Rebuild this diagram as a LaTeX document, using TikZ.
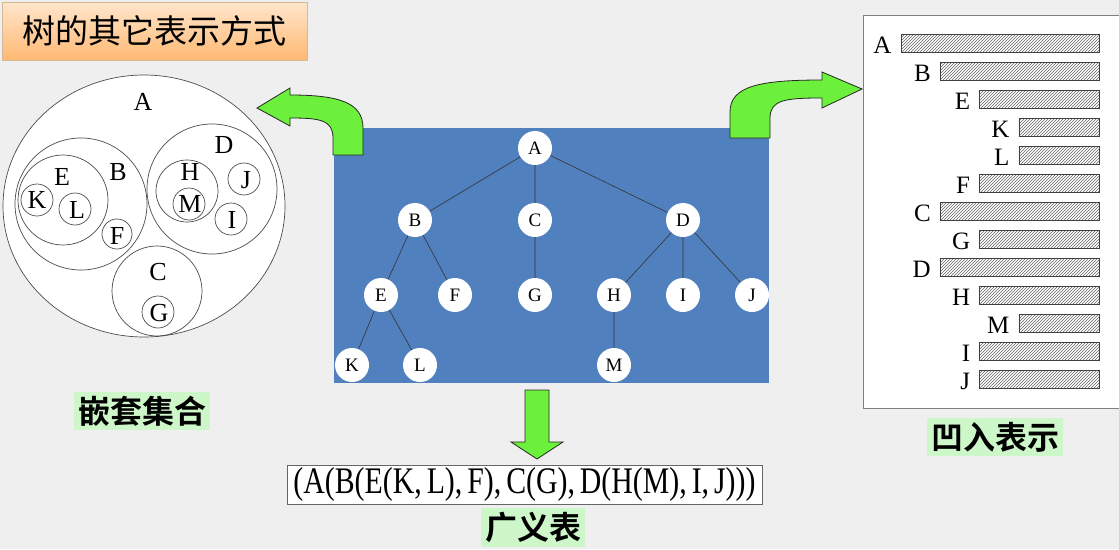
\documentclass[tikz,border=0pt]{standalone}
\usepackage{fontspec}
\setmainfont{Liberation Serif}
\newfontfamily\cjk{Noto Sans CJK SC}
\newfontfamily\cjkb{Noto Sans CJK SC Bold}
\usetikzlibrary{patterns,shapes.geometric}
\definecolor{bg}{HTML}{EFEFEF}
\definecolor{blueb}{HTML}{5180BE}
\definecolor{arrowg}{HTML}{6CF03C}
\definecolor{lblg}{HTML}{CDF7C9}
\tikzset{
  tn/.style={circle,fill=white,inner sep=0pt,minimum size=34pt,font=\fontsize{19}{19}\selectfont},
  tl/.style={draw=black!80,line width=0.6pt},
  sc/.style={draw=black!70,line width=0.7pt},
  nl/.style={font=\fontsize{26}{26}\selectfont},
  bar/.style={draw=black!75,line width=0.8pt,pattern=north east lines,pattern color=black!60},
  bl/.style={font=\fontsize{25}{25}\selectfont,anchor=east},
  garrow/.style={fill=arrowg,draw=black!85,line width=0.8pt,line join=miter},
  glbl/.style={fill=lblg,inner sep=4pt,font=\cjkb\fontsize{32}{32}\selectfont}
}
\begin{document}
\begin{tikzpicture}[x=1pt,y=-1pt]
\fill[bg] (0,0) rectangle (1119,549);
\useasboundingbox (0,0) rectangle (1119,549);
% title
\node[draw=orange!60!black!40,top color=orange!20,bottom color=orange!55,minimum width=305pt,minimum height=58pt,font=\cjk\fontsize{33}{33}\selectfont] (title) at (155,31) {树的其它表示方式};
% nested sets
\draw[sc,fill=white] (144,206) ellipse [x radius=141,y radius=131];
\draw[sc] (81,204) circle (66);
\draw[sc] (63,200) circle (45);
\draw[sc] (37,200) circle (16);
\draw[sc] (75,209) circle (16);
\draw[sc] (117,234) circle (15);
\draw[sc] (212,189) circle (65);
\draw[sc] (187,191) circle (31);
\draw[sc] (189,204) circle (16);
\draw[sc] (244,179) circle (16);
\draw[sc] (231,219) circle (16);
\draw[sc] (157,291) circle (45);
\draw[sc] (158,312) circle (16);
\node[nl] (sA) at (143,102) {A};
\node[nl] (sB) at (118,172) {B};
\node[nl] (sE) at (62,177) {E};
\node[nl] (sK) at (37,200) {K};
\node[nl] (sL) at (77,210) {L};
\node[nl] (sF) at (117,236) {F};
\node[nl] (sD) at (224,145) {D};
\node[nl] (sH) at (190,172) {H};
\node[nl] (sM) at (190,204) {M};
\node[nl] (sJ) at (246,180) {J};
\node[nl] (sI) at (232,220) {I};
\node[nl] (sC) at (158,272) {C};
\node[nl] (sG) at (159,313) {G};
\node[glbl] (lblNest) at (142,411) {嵌套集合};
% tree
\fill[blueb] (334,128) rectangle (769,383);
\node[tn] (A) at (535,148) {A};
\node[tn] (B) at (415,220) {B};
\node[tn] (C) at (535,220) {C};
\node[tn] (D) at (683,220) {D};
\node[tn] (E) at (381,295) {E};
\node[tn] (F) at (455,295) {F};
\node[tn] (G) at (535,295) {G};
\node[tn] (H) at (614,295) {H};
\node[tn] (I) at (683,295) {I};
\node[tn] (J) at (752,295) {J};
\node[tn] (K) at (352,365) {K};
\node[tn] (L) at (420,365) {L};
\node[tn] (M) at (614,365) {M};
\draw[tl] (A)--(B) (A)--(C) (A)--(D) (B)--(E) (B)--(F) (C)--(G) (D)--(H) (D)--(I) (D)--(J) (E)--(K) (E)--(L) (H)--(M);
% arrows
\draw[garrow] (363,155) -- (363,128) .. controls (363,103) and (340,95) .. (290,95) -- (290,88) -- (257,108) -- (290,126) -- (290,118) .. controls (320,118) and (333,120) .. (333,138) -- (333,155) -- cycle;
\draw[garrow] (730,138) -- (730,112) .. controls (730,86) and (760,80) .. (822,80) -- (822,72) -- (862,89) -- (822,108) -- (822,98) .. controls (785,98) and (770,100) .. (770,118) -- (770,138) -- cycle;
\draw[garrow] (525,390) -- (549,390) -- (549,442) -- (563,442) -- (537,459) -- (511,442) -- (525,442) -- cycle;
% list
\node[draw=black!60,fill=white,minimum width=475pt,minimum height=39pt,inner sep=0pt] (list) at (524.5,484.5) {\resizebox{462pt}{26pt}{(A(B(E(K,\,L),\,F),\,C(G),\,D(H(M),\,I,\,J)))}};
\node[glbl,anchor=north] (lblList) at (533,508) {广义表};
% indentation
\draw[draw=black!50,fill=white] (863,15) rectangle (1125,408);
\foreach \n/\y/\lv in {A/43/0,B/71/1,E/99/2,K/127/3,L/155/3,F/183/2,C/211/1,G/239/2,D/267/1,H/295/2,M/323/3,I/351/2,J/379/2}{
  \pgfmathsetmacro{\xl}{901+39.3*\lv}
  \draw[bar] (\xl,\y-9) rectangle (1099,\y+9);
  \node[bl] (r\n) at (\xl-6,\y+2) {\n};
}
\node[glbl] (lblIndent) at (995,437) {凹入表示};
\end{tikzpicture}
\end{document}
